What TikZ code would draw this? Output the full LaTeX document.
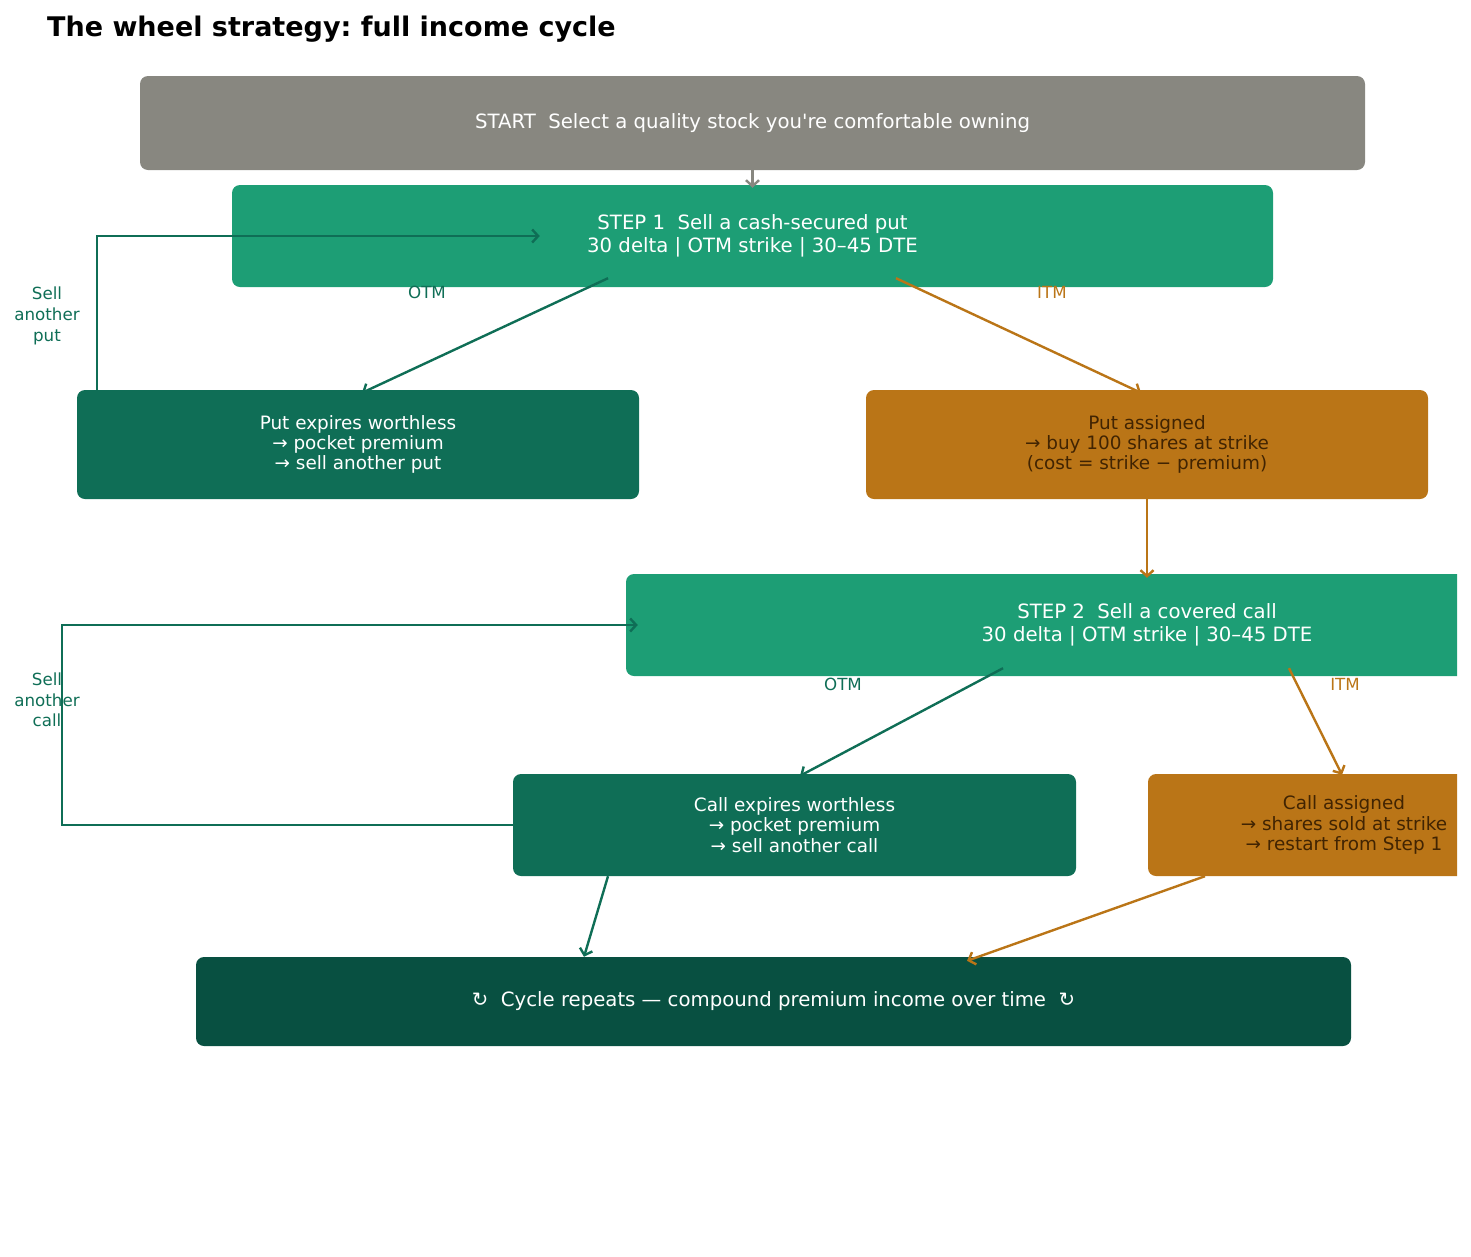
\documentclass[tikz,border=0pt]{standalone}
\usepackage{fontspec}
\setmainfont{DejaVu Sans}[Ligatures=TeXOff]
\usetikzlibrary{arrows.meta,calc}
\definecolor{cgray}{HTML}{888780}
\definecolor{cteal}{HTML}{1D9E75}
\definecolor{cdark}{HTML}{0F6E56}
\definecolor{corange}{HTML}{BA7517}
\definecolor{cbrown}{HTML}{412402}
\definecolor{cdeep}{HTML}{085041}
\frenchspacing
\begin{document}
\begin{tikzpicture}[x=1pt,y=-1pt,
  box/.style={rounded corners=8pt, inner sep=0pt, align=center,
    font=\fontsize{19.7}{22.5}\selectfont, text=white},
  obox/.style={box, font=\fontsize{18.4}{20.4}\selectfont},
  lbl/.style={inner sep=0pt, align=center, font=\fontsize{16.7}{20.7}\selectfont},
  conn/.style={line width=2.4pt, -{Straight Barb[length=6pt,width=13pt,line width=2.4pt]}},
  plain/.style={line width=2.4pt}]
\useasboundingbox (0,0) rectangle (1471,1256);
\node[anchor=base west, inner sep=0pt, font=\fontsize{27}{31}\selectfont\bfseries] (title) at (47,36) {The wheel strategy: full income cycle};
\begin{scope}
\clip (0,0) rectangle (1457,1256);
\node[box, fill=cgray, minimum width=1225pt, minimum height=94pt] (st) at (752.5,123) {START\ \ Select a quality stock you're comfortable owning};
\node[box, fill=cteal, minimum width=1041pt, minimum height=102pt] (s1) at (752.5,236) {STEP 1\ \ Sell a cash-secured put\\30 delta | OTM strike | 30–45 DTE};
\node[obox, fill=cdark, minimum width=562pt, minimum height=109pt] (pe) at (358,444.5) {Put expires worthless\\→ pocket premium\\→ sell another put};
\node[obox, fill=corange, text=cbrown, minimum width=562pt, minimum height=109pt] (pa) at (1147,444.5) {Put assigned\\→ buy 100 shares at strike\\(cost = strike − premium)};
\node[box, fill=cteal, minimum width=1042pt, minimum height=102pt] (s2) at (1147,625) {STEP 2\ \ Sell a covered call\\30 delta | OTM strike | 30–45 DTE};
\node[obox, fill=cdark, minimum width=563pt, minimum height=102pt] (ce) at (794.5,825) {Call expires worthless\\→ pocket premium\\→ sell another call};
\node[obox, fill=corange, text=cbrown, minimum width=392pt, minimum height=102pt] (ca) at (1344,825) {Call assigned\\→ shares sold at strike\\→ restart from Step 1};
\node[box, fill=cdeep, minimum width=1155pt, minimum height=89pt] (cy) at (773.5,1001.5) {↻\ \ Cycle repeats — compound premium income over time\ \ ↻};

% connectors
\draw[conn, cgray] (st.south) -- ($(s1.north)+(0,3)$);
\draw[conn, cdark] ($(s1.south)+(-144.5,-9)$) -- ($(pe.north)+(4,3)$);
\draw[conn, corange] ($(s1.south)+(143.5,-9)$) -- ($(pa.north)+(-6,3)$);
\draw[conn, cdark] ($(pe.north west)+(20,0)$) |- ($(s1.west)+(308,0)$);
\draw[conn, corange] (pa.south) -- ($(s2.north)+(0,4)$);
\draw[conn, cdark] (ce.west) -- ++(-451,0) |- ($(s2.west)+(12,0)$);
\draw[conn, cdark] ($(s2.south)+(-144,-8)$) -- ($(ce.north)+(5.5,2)$);
\draw[conn, corange] ($(s2.south)+(142,-8)$) -- ($(ca.north)+(-2,1)$);
\draw[conn, cdark] ($(ce.south)+(-186.5,0)$) -- ($(cy.north)+(-189.5,0)$);
\draw[conn, corange] ($(ca.south)+(-139,0)$) -- ($(cy.north)+(193.5,4)$);
\end{scope}

% labels
\node[lbl, text=cdark] (l1) at (427,292) {OTM};
\node[lbl, text=corange] (l2) at (1052,292) {ITM};
\node[lbl, text=cdark] (l3) at (843,684) {OTM};
\node[lbl, text=corange] (l4) at (1345,684) {ITM};
\node[lbl, text=cdark] (l5) at (47,316) {Sell\\another\\put};
\node[lbl, text=cdark] (l6) at (47,700) {Sell\\another\\call};
\end{tikzpicture}
\end{document}
